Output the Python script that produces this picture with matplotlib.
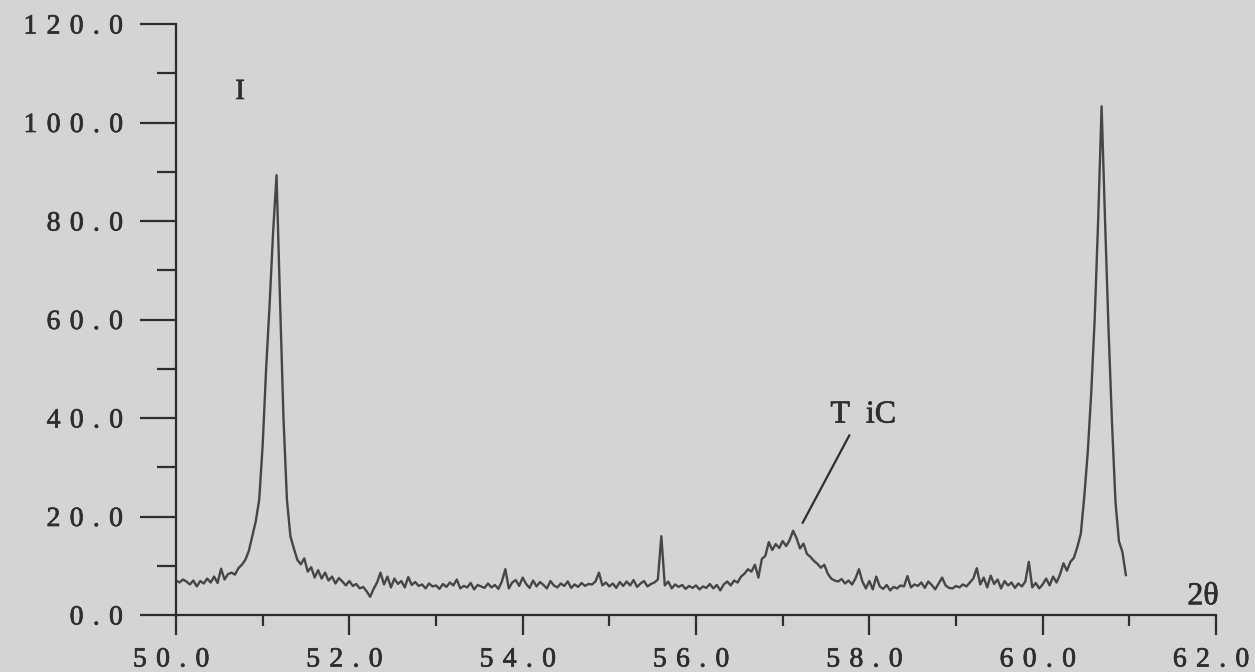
import numpy as np
import matplotlib
matplotlib.use("Agg")
import matplotlib.pyplot as plt
import matplotlib.patheffects as pe
from matplotlib.ticker import MultipleLocator, FuncFormatter
from matplotlib.transforms import ScaledTranslation

# ---- data ----
scan_start = 50.0   # 2-theta of first point
scan_step = 0.04    # step width in degrees
intensity = [
    7.0, 6.6, 7.2, 6.8, 6.2, 7.0, 5.8, 6.9, 6.4, 7.4,
    6.6, 7.8, 6.5, 9.4, 7.2, 8.3, 8.6, 8.2, 9.5, 10.2,
    11.2, 13.0, 16.0, 19.0, 23.4, 34.5, 50.0, 63.0, 77.6, 89.3,
    64.0, 40.0, 23.4, 16.0, 13.5, 11.2, 10.3, 11.5, 8.8, 9.7,
    7.6, 9.1, 7.4, 8.6, 7.0, 7.8, 6.4, 7.5, 6.8, 6.0,
    6.9, 5.9, 6.3, 5.4, 5.7, 4.8, 3.7, 5.3, 6.6, 8.6,
    6.2, 7.8, 5.6, 7.4, 6.3, 6.9, 5.6, 7.7, 6.1, 6.7,
    5.9, 6.2, 5.4, 6.4, 5.8, 6.0, 5.3, 6.3, 5.7, 6.6,
    6.0, 7.2, 5.4, 5.9, 5.6, 6.5, 5.2, 6.1, 5.8, 5.5,
    6.4, 5.6, 6.1, 5.3, 6.8, 9.3, 5.4, 6.6, 7.1, 5.9,
    7.6, 6.3, 5.5, 7.0, 5.8, 6.7, 6.1, 5.4, 6.9, 6.0,
    5.6, 6.4, 5.9, 6.8, 5.5, 6.2, 5.7, 6.5, 5.9, 6.3,
    6.2, 6.8, 8.6, 6.0, 6.6, 5.8, 6.4, 5.5, 6.7, 5.9,
    6.8, 6.0, 7.1, 5.7, 6.4, 6.9, 5.8, 6.3, 6.6, 7.2,
    16.0, 6.0, 6.8, 5.4, 6.2, 5.7, 6.1, 5.3, 5.9, 5.5,
    6.0, 5.2, 5.8, 5.5, 6.3, 5.4, 6.1, 5.0, 6.2, 6.8,
    6.0, 7.0, 6.6, 7.8, 8.4, 9.3, 8.8, 10.2, 7.6, 11.4,
    12.0, 14.8, 13.2, 14.4, 13.6, 15.0, 14.0, 15.2, 17.1, 15.6,
    13.5, 14.5, 12.4, 11.8, 11.0, 10.4, 9.6, 10.2, 8.4, 7.4,
    7.0, 6.8, 7.3, 6.4, 7.0, 6.2, 7.4, 9.3, 6.8, 5.4,
    6.9, 5.2, 7.8, 5.8, 5.3, 6.1, 5.0, 5.7, 5.4, 6.0,
    5.8, 7.9, 5.6, 6.2, 5.9, 6.6, 5.5, 6.8, 6.1, 5.2,
    6.4, 7.6, 6.0, 5.5, 5.4, 5.9, 5.6, 6.2, 5.8, 6.6,
    7.4, 9.5, 6.2, 7.6, 5.6, 8.0, 6.3, 7.2, 5.4, 6.9,
    6.0, 6.6, 5.5, 6.4, 5.8, 6.8, 10.8, 5.6, 6.5, 5.4,
    6.2, 7.4, 6.0, 7.8, 6.6, 8.2, 10.5, 9.0, 10.8, 11.6,
    13.8, 16.5, 24.0, 33.0, 45.0, 60.0, 80.0, 103.3, 80.0, 58.0,
    39.0, 23.0, 15.0, 12.8, 8.1,
]
two_theta = scan_start + scan_step * np.arange(len(intensity))

x_major = [50.0, 52.0, 54.0, 56.0, 58.0, 60.0, 62.0]
y_major = [0.0, 20.0, 40.0, 60.0, 80.0, 100.0, 120.0]
peak_label = "T\u2002iC"
peak_label_pos = (57.93, 40.6)
peak_line_start = (57.77, 36.5)
peak_line_end = (57.23, 18.7)
y_axis_label = "I"
y_axis_label_pos = (50.74, 106.2)
x_axis_label = "2θ"
x_axis_label_pos = (61.85, 3.7)

# ---- style ----
bg = "#d4d4d4"
ink = "#2e2e2e"
line_col = "#464646"
fam = ["Liberation Serif", "DejaVu Serif"]
fs = 21
thick = [pe.withStroke(linewidth=0.5, foreground=ink)]

plt.rcParams["font.family"] = fam

fig = plt.figure(figsize=(12.55, 6.72), dpi=100, facecolor=bg)
ax = fig.add_axes([176 / 1255, 1 - 615 / 672, 1040 / 1255, 591 / 672])
ax.set_facecolor(bg)

ax.plot(two_theta, intensity, color=line_col, lw=1.7)

ax.set_xlim(50, 62)
ax.set_ylim(0, 120)

for s in ["top", "right"]:
    ax.spines[s].set_visible(False)
for s in ["left", "bottom"]:
    ax.spines[s].set_color(ink)
    ax.spines[s].set_linewidth(1.6)

def spaced(v, pos=None):
    return "\u2004".join(f"{v:.1f}")

ax.set_xticks(x_major)
ax.set_yticks(y_major)
ax.xaxis.set_minor_locator(MultipleLocator(1.0))
ax.yaxis.set_minor_locator(MultipleLocator(10.0))
ax.xaxis.set_major_formatter(FuncFormatter(spaced))
ax.yaxis.set_major_formatter(FuncFormatter(spaced))

ax.tick_params(axis="x", which="major", length=14.4, width=1.6, color=ink,
               labelsize=fs - 1, labelcolor=ink, pad=9)
ax.tick_params(axis="x", which="minor", length=7.9, width=1.6, color=ink)
ax.tick_params(axis="y", which="major", length=25.9, width=1.6, color=ink,
               labelsize=fs - 1, labelcolor=ink, pad=12.5)
ax.tick_params(axis="y", which="minor", length=13.7, width=1.6, color=ink)

shift_left = ScaledTranslation(-5 / 100, 0, fig.dpi_scale_trans)
for lab in ax.get_xticklabels():
    lab.set_family(fam)
    lab.set_path_effects(thick)
    lab.set_transform(lab.get_transform() + shift_left)
for lab in ax.get_yticklabels():
    lab.set_family(fam)
    lab.set_path_effects(thick)

ax.annotate("", xy=peak_line_end, xytext=peak_line_start,
            arrowprops=dict(arrowstyle="-", color=ink, lw=1.6,
                            shrinkA=0, shrinkB=0))
ax.text(*peak_label_pos, peak_label, ha="center", va="center",
        fontsize=fs + 2, color=ink, family=fam, path_effects=thick)
ax.text(*y_axis_label_pos, y_axis_label, ha="center", va="center",
        fontsize=fs, color=ink, family=fam, path_effects=thick)
ax.text(*x_axis_label_pos, x_axis_label, ha="center", va="center",
        fontsize=fs + 2, color=ink, family=fam, path_effects=thick)

fig.savefig("out.png", dpi=100, facecolor=bg)
